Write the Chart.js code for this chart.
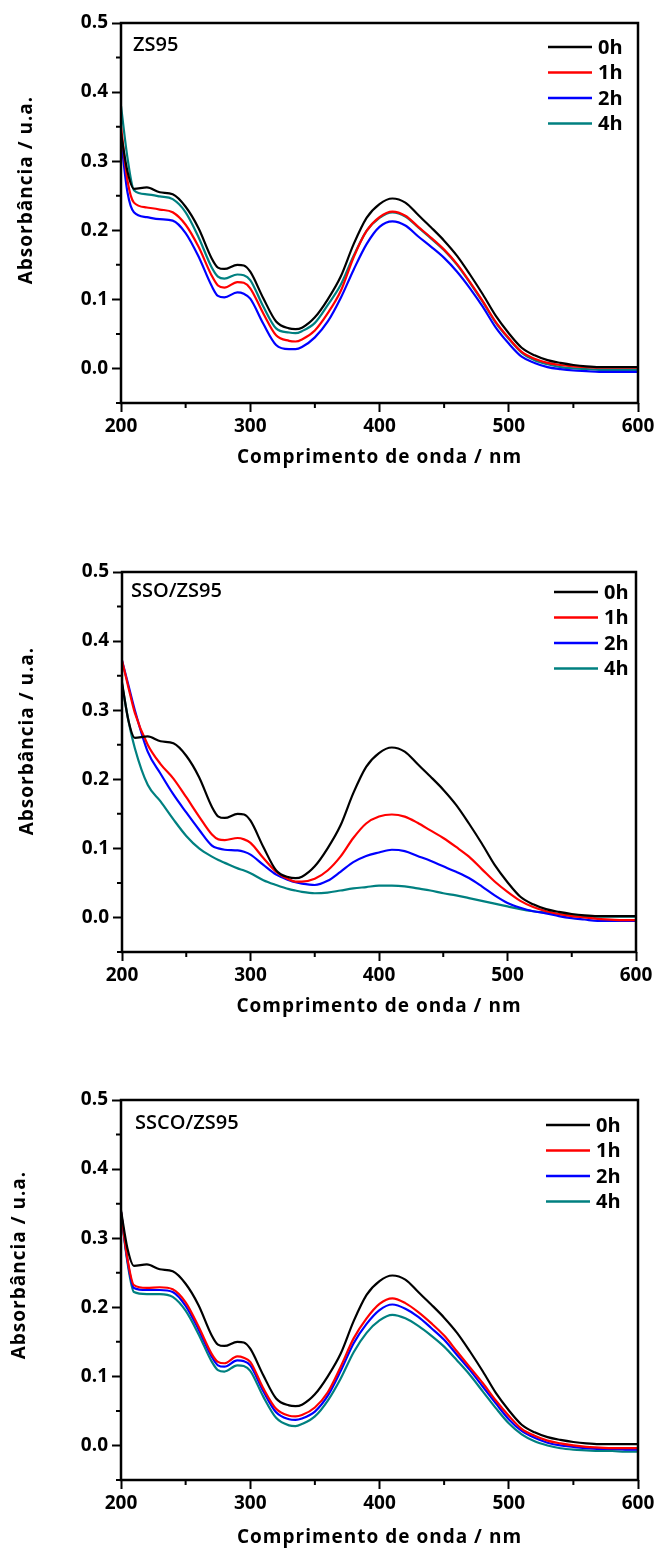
<!DOCTYPE html>
<html>
<head>
<meta charset="utf-8">
<script src="https://cdn.jsdelivr.net/npm/chart.js@4.4.1/dist/chart.umd.min.js"></script>
<style>
  html, body { margin: 0; padding: 0; background: #fff; }
  body { width: 660px; height: 1550px; position: relative; overflow: hidden; }
  canvas { position: absolute; left: 0; }
</style>
</head>
<body>
<canvas id="c1"></canvas>
<canvas id="c2"></canvas>
<canvas id="c3"></canvas>
<script>
// wavelength grid (nm) shared by every curve
const wavelength = [200, 205, 210, 220, 230, 240, 250, 260, 270, 275, 280, 290, 295, 300, 310, 320, 330, 335, 340, 350, 360,
  370, 380, 390, 400, 410, 420, 430, 440, 450, 460, 470, 480, 490, 500, 510, 520, 530, 540, 550, 560, 570, 580, 590, 600];

// 0h reference spectrum, the same in all three panels
const abs0h = [0.340, 0.285, 0.260, 0.262, 0.255, 0.252, 0.234, 0.203, 0.160, 0.146, 0.144, 0.150, 0.149, 0.140, 0.102, 0.068, 0.058, 0.057, 0.059, 0.074, 0.100,
  0.133, 0.180, 0.218, 0.238, 0.246, 0.240, 0.222, 0.204, 0.185, 0.163, 0.136, 0.107, 0.076, 0.051, 0.030, 0.019, 0.012, 0.008, 0.005, 0.003, 0.002, 0.002, 0.002, 0.002];

// ZS95
const zs95_1h = [0.350, 0.272, 0.240, 0.233, 0.230, 0.226, 0.208, 0.176, 0.135, 0.120, 0.117, 0.125, 0.124, 0.116, 0.080, 0.048, 0.040, 0.039, 0.042, 0.055, 0.080,
  0.112, 0.161, 0.199, 0.219, 0.227, 0.221, 0.205, 0.189, 0.172, 0.151, 0.125, 0.097, 0.067, 0.044, 0.024, 0.014, 0.008, 0.005, 0.003, 0.002, 0.001, 0.001, 0.001, 0.001];
const zs95_2h = [0.332, 0.255, 0.226, 0.219, 0.216, 0.214, 0.196, 0.162, 0.120, 0.105, 0.103, 0.110, 0.108, 0.101, 0.065, 0.034, 0.028, 0.028, 0.031, 0.045, 0.068,
  0.102, 0.143, 0.180, 0.205, 0.213, 0.207, 0.191, 0.176, 0.160, 0.140, 0.116, 0.089, 0.059, 0.036, 0.017, 0.008, 0.002, -0.001, -0.003, -0.004, -0.005, -0.005, -0.005, -0.005];
const zs95_4h = [0.380, 0.305, 0.258, 0.252, 0.249, 0.245, 0.226, 0.190, 0.147, 0.133, 0.130, 0.136, 0.135, 0.128, 0.090, 0.058, 0.052, 0.051, 0.054, 0.066, 0.092,
  0.121, 0.163, 0.199, 0.218, 0.226, 0.220, 0.204, 0.188, 0.171, 0.150, 0.124, 0.096, 0.066, 0.043, 0.023, 0.012, 0.006, 0.002, 0.000, -0.001, -0.002, -0.002, -0.002, -0.002];

// SSO/ZS95
const sso_1h = [0.372, 0.333, 0.296, 0.250, 0.222, 0.201, 0.174, 0.146, 0.120, 0.113, 0.112, 0.115, 0.113, 0.108, 0.086, 0.066, 0.055, 0.052, 0.052, 0.056, 0.068,
  0.088, 0.115, 0.136, 0.146, 0.149, 0.146, 0.137, 0.126, 0.115, 0.102, 0.088, 0.070, 0.052, 0.037, 0.024, 0.015, 0.009, 0.005, 0.002, 0.000, -0.002, -0.003, -0.004, -0.004];
const sso_2h = [0.372, 0.336, 0.300, 0.240, 0.208, 0.178, 0.152, 0.127, 0.104, 0.100, 0.098, 0.097, 0.095, 0.091, 0.076, 0.062, 0.054, 0.051, 0.049, 0.047, 0.053,
  0.066, 0.080, 0.089, 0.094, 0.098, 0.096, 0.089, 0.082, 0.074, 0.066, 0.057, 0.045, 0.032, 0.021, 0.014, 0.009, 0.006, 0.002, -0.001, -0.003, -0.005, -0.005, -0.005, -0.005];
const sso_4h = [0.338, 0.285, 0.245, 0.192, 0.168, 0.142, 0.118, 0.100, 0.088, 0.083, 0.079, 0.071, 0.068, 0.064, 0.054, 0.047, 0.041, 0.039, 0.037, 0.035, 0.036,
  0.039, 0.042, 0.044, 0.046, 0.046, 0.045, 0.042, 0.039, 0.035, 0.032, 0.028, 0.024, 0.020, 0.016, 0.012, 0.009, 0.007, 0.005, 0.003, 0.002, 0.001, 0.001, 0.001, 0.001];

// SSCO/ZS95
const ssco_1h = [0.338, 0.270, 0.232, 0.228, 0.229, 0.226, 0.207, 0.172, 0.133, 0.121, 0.119, 0.129, 0.127, 0.121, 0.083, 0.053, 0.043, 0.042, 0.044, 0.055, 0.077,
  0.114, 0.155, 0.184, 0.205, 0.213, 0.206, 0.193, 0.177, 0.159, 0.136, 0.113, 0.090, 0.065, 0.043, 0.024, 0.014, 0.007, 0.003, 0.000, -0.002, -0.003, -0.004, -0.004, -0.004];
const ssco_2h = [0.338, 0.268, 0.228, 0.225, 0.225, 0.222, 0.202, 0.168, 0.129, 0.116, 0.114, 0.123, 0.122, 0.116, 0.079, 0.048, 0.038, 0.037, 0.039, 0.049, 0.072,
  0.108, 0.148, 0.176, 0.196, 0.204, 0.198, 0.186, 0.170, 0.153, 0.131, 0.109, 0.085, 0.061, 0.038, 0.021, 0.011, 0.004, 0.000, -0.002, -0.004, -0.005, -0.005, -0.006, -0.006];
const ssco_4h = [0.338, 0.265, 0.222, 0.219, 0.219, 0.215, 0.195, 0.161, 0.122, 0.109, 0.107, 0.116, 0.115, 0.108, 0.071, 0.040, 0.029, 0.028, 0.031, 0.042, 0.065,
  0.097, 0.135, 0.163, 0.181, 0.189, 0.184, 0.173, 0.159, 0.143, 0.123, 0.102, 0.078, 0.054, 0.032, 0.016, 0.006, 0.000, -0.004, -0.006, -0.007, -0.008, -0.008, -0.009, -0.009];

const seriesLabels = ['0h', '1h', '2h', '4h'];
const seriesColors = ['#000000', '#ff0000', '#0000ff', '#008080'];
const xTicks = [200, 300, 400, 500, 600];
const xMinor = [250, 350, 450, 550];
const yTicks = [0.0, 0.1, 0.2, 0.3, 0.4, 0.5];
const yMinor = [-0.05, 0.05, 0.15, 0.25, 0.35, 0.45];
const xTitle = 'Comprimento de onda / nm';
const yTitle = 'Absorbância / u.a.';

const FONT = "'Open Sans', sans-serif";

// panel placement on the page (pixels)
const panels = [
  { id: 'c1', name: 'ZS95', series: [abs0h, zs95_1h, zs95_2h, zs95_4h],
    top: 0, height: 480, left: 121, plotTop: 23, right: 638, bottom: 403,
    yTitle: [27, 190], xTitleY: 458, label: [133, 45], legend: [548, 47] },
  { id: 'c2', name: 'SSO/ZS95', series: [abs0h, sso_1h, sso_2h, sso_4h],
    top: 548, height: 480, left: 122, plotTop: 24, right: 636, bottom: 404,
    yTitle: [28, 193], xTitleY: 459, label: [131, 43], legend: [554, 44] },
  { id: 'c3', name: 'SSCO/ZS95', series: [abs0h, ssco_1h, ssco_2h, ssco_4h],
    top: 1076, height: 474, left: 121, plotTop: 24, right: 638, bottom: 404,
    yTitle: [20, 189], xTitleY: 462, label: [135, 47], legend: [546, 49] }
];

// box, minor ticks, panel name, legend and axis titles
const framePlugin = {
  id: 'frame',
  afterDatasetsDraw(chart, args, p) {
    const { ctx, chartArea: a, scales: { x, y } } = chart;
    ctx.save();
    ctx.strokeStyle = '#000';
    ctx.lineWidth = 2.5;
    ctx.strokeRect(a.left, a.top, a.right - a.left, a.bottom - a.top);

    ctx.lineWidth = 2;
    ctx.beginPath();
    xMinor.forEach(v => {
      const px = x.getPixelForValue(v);
      ctx.moveTo(px, a.bottom); ctx.lineTo(px, a.bottom + 5);
    });
    yMinor.forEach(v => {
      const py = y.getPixelForValue(v);
      ctx.moveTo(a.left, py); ctx.lineTo(a.left - 5, py);
    });
    ctx.stroke();

    ctx.fillStyle = '#000';
    ctx.textBaseline = 'middle';
    ctx.textAlign = 'left';
    ctx.font = '600 20px ' + FONT;
    ctx.fillText(p.name, p.label[0], p.label[1]);

    // legend
    ctx.font = 'bold 20px ' + FONT;
    chart.data.datasets.forEach((ds, i) => {
      const ly = p.legend[1] + i * 25.5;
      ctx.strokeStyle = ds.borderColor;
      ctx.lineWidth = 2.5;
      ctx.beginPath();
      ctx.moveTo(p.legend[0], ly); ctx.lineTo(p.legend[0] + 44, ly);
      ctx.stroke();
      ctx.fillText(ds.label, p.legend[0] + 50, ly + 1);
    });

    // axis titles
    ctx.font = 'bold 19px ' + FONT;
    ctx.letterSpacing = '1px';
    ctx.textAlign = 'center';
    ctx.fillText(xTitle, (a.left + a.right) / 2, p.xTitleY);
    ctx.translate(p.yTitle[0], p.yTitle[1]);
    ctx.rotate(-Math.PI / 2);
    ctx.fillText(yTitle, 0, 0);
    ctx.restore();
  }
};

panels.forEach(p => {
  const canvas = document.getElementById(p.id);
  canvas.width = 660;
  canvas.height = p.height;
  canvas.style.top = p.top + 'px';

  const datasets = seriesLabels.map((lab, i) => ({
    label: lab,
    data: wavelength.map((w, j) => ({ x: w, y: p.series[i][j] })),
    borderColor: seriesColors[i],
    borderWidth: 2.2,
    pointRadius: 0,
    cubicInterpolationMode: 'monotone',
    fill: false
  }));

  const tickFont = { family: FONT, size: 19, weight: 'bold' };

  new Chart(canvas, {
    type: 'line',
    data: { datasets },
    options: {
      responsive: false,
      animation: false,
      layout: { padding: { top: p.plotTop, right: 660 - p.right, left: 0, bottom: 0 } },
      plugins: {
        legend: { display: false },
        tooltip: { enabled: false },
        frame: p
      },
      scales: {
        x: {
          type: 'linear', min: 200, max: 600,
          afterFit: s => { s.height = p.height - p.bottom; },
          afterBuildTicks: s => { s.ticks = xTicks.map(v => ({ value: v })); },
          grid: { drawOnChartArea: false, drawTicks: true, tickLength: 9, tickWidth: 2, tickColor: '#000' },
          border: { display: false },
          ticks: { color: '#000', font: tickFont, padding: 3, maxRotation: 0, autoSkip: false,
                   callback: v => String(v) }
        },
        y: {
          type: 'linear', min: -0.05, max: 0.5,
          afterFit: s => { s.width = p.left; },
          afterBuildTicks: s => { s.ticks = yTicks.map(v => ({ value: v })); },
          grid: { drawOnChartArea: false, drawTicks: true, tickLength: 9, tickWidth: 2, tickColor: '#000' },
          border: { display: false },
          ticks: { color: '#000', font: tickFont, padding: 4, autoSkip: false,
                   callback: v => v.toFixed(1) }
        }
      }
    },
    plugins: [framePlugin]
  });
});
</script>
</body>
</html>
